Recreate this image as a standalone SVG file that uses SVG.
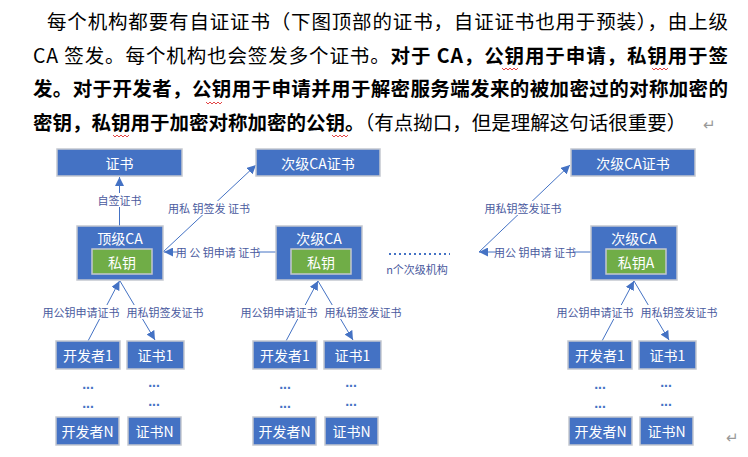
<svg xmlns="http://www.w3.org/2000/svg" width="748" height="457" viewBox="0 0 748 457">
<defs>
<marker id="ah" viewBox="0 0 10 10" refX="10" refY="5" markerWidth="9" markerHeight="9" markerUnits="userSpaceOnUse" orient="auto"><path d="M0,0 L10,5 L0,10 Z" fill="#4472c4"/></marker>
<style>
.p{font-family:"Noto Sans CJK SC","Liberation Sans",sans-serif;font-size:19.5px;fill:#000}
.b{font-weight:bold}
.bx{fill:#4472c4;stroke:#c3c7cf;stroke-width:1.5}
.gk{fill:#70ad47;stroke:#c3c7cf;stroke-width:1.5}
.t{font-family:"Noto Sans CJK SC","Liberation Sans",sans-serif;font-size:14px;fill:#fff;text-anchor:middle;dominant-baseline:central}
.ln{stroke:#4472c4;stroke-width:1;fill:none}
.lb{font-family:"Noto Sans CJK SC","Liberation Sans",sans-serif;font-size:11px;fill:#4a5a9e;text-anchor:middle;dominant-baseline:central}
.bg{fill:#fff}
.dots{font-family:"Liberation Sans",sans-serif;font-size:14px;font-weight:bold;fill:#4472c4;text-anchor:middle}
.sq{stroke:#e03030;stroke-width:0.9;fill:none}
.ret{font-family:"Liberation Sans",sans-serif;font-size:15px;fill:#999}
</style>
</defs>
<rect width="748" height="457" fill="#fff"/>
<g id="paragraph">
<text class="p" x="47" y="29" textLength="681" lengthAdjust="spacing">每个机构都要有自证证书（下图顶部的证书，自证证书也用于预装），由上级</text>
<text class="p" x="33" y="63" textLength="695" lengthAdjust="spacing">CA 签发。每个机构也会签发多个证书。<tspan class="b">对于 CA，公钥用于申请，私钥用于签</tspan></text>
<text class="p b" x="33" y="96" textLength="695" lengthAdjust="spacing">发。对于开发者，公钥用于申请并用于解密服务端发来的被加密过的对称加密的</text>
<text class="p" x="33" y="130"><tspan class="b">密钥，私钥用于加密对称加密的公钥。</tspan>（有点拗口，但是理解这句话很重要）</text>
<text class="ret" x="703" y="130">↵</text>
<text class="ret" x="726" y="443">↵</text>
<path class="sq" d="M502,68 l2,2 l2,-2 l2,2 l2,-2 l2,2 l2,-2 l2,2 l2,-2"/>
<path class="sq" d="M652,68 l2,2 l2,-2 l2,2 l2,-2 l2,2 l2,-2 l2,2 l2,-2"/>
<path class="sq" d="M206,102 l2,2 l2,-2 l2,2 l2,-2 l2,2 l2,-2 l2,2 l2,-2"/>
<path class="sq" d="M113,135 l2,2 l2,-2 l2,2 l2,-2 l2,2 l2,-2 l2,2 l2,-2"/>
<path class="sq" d="M332,135 l2,2 l2,-2 l2,2 l2,-2 l2,2 l2,-2 l2,2 l2,-2"/>
</g>
<g id="connectors">
<line class="ln" x1="119.5" y1="226" x2="119.5" y2="177" marker-end="url(#ah)"/>
<line class="ln" x1="163" y1="252" x2="256" y2="165" marker-end="url(#ah)"/>
<line class="ln" x1="276" y1="252" x2="164" y2="252" marker-end="url(#ah)"/>
<line class="ln" x1="591" y1="252" x2="479" y2="252" marker-end="url(#ah)"/>
<line class="ln" x1="479" y1="252" x2="570" y2="165" marker-end="url(#ah)"/>
<line class="ln" x1="88" y1="341" x2="119.5" y2="281" marker-end="url(#ah)"/>
<line class="ln" x1="120" y1="281" x2="155" y2="340" marker-end="url(#ah)"/>
<line class="ln" x1="286" y1="341" x2="318" y2="281" marker-end="url(#ah)"/>
<line class="ln" x1="318" y1="281" x2="353" y2="340" marker-end="url(#ah)"/>
<line class="ln" x1="602" y1="341" x2="634" y2="281" marker-end="url(#ah)"/>
<line class="ln" x1="634" y1="281" x2="669" y2="340" marker-end="url(#ah)"/>
<rect class="bg" x="97" y="193" width="45" height="14"/>
<text class="lb" x="119.5" y="200">自签证书</text>
<rect class="bg" x="170" y="201" width="78" height="14"/>
<text class="lb" x="209" y="208">用私 钥签发 证书</text>
<rect class="bg" x="178" y="245" width="80" height="14"/>
<text class="lb" x="218" y="252">用 公 钥申请 证书</text>
<rect class="bg" x="496" y="245" width="78" height="14"/>
<text class="lb" x="535" y="252">用公 钥申请 证书</text>
<rect class="bg" x="485" y="201" width="76" height="14"/>
<text class="lb" x="523" y="208">用私钥签发证书</text>
<rect class="bg" x="43" y="305" width="76" height="14"/>
<text class="lb" x="81" y="312">用公钥申请证书</text>
<rect class="bg" x="127" y="305" width="76" height="14"/>
<text class="lb" x="165" y="312">用私钥签发证书</text>
<rect class="bg" x="241" y="305" width="76" height="14"/>
<text class="lb" x="279" y="312">用公钥申请证书</text>
<rect class="bg" x="325" y="305" width="76" height="14"/>
<text class="lb" x="363" y="312">用私钥签发证书</text>
<rect class="bg" x="557" y="305" width="76" height="14"/>
<text class="lb" x="595" y="312">用公钥申请证书</text>
<rect class="bg" x="641" y="305" width="76" height="14"/>
<text class="lb" x="679" y="312">用私钥签发证书</text>
</g>
<g id="n-more">
<line x1="389" y1="254" x2="450" y2="254" stroke="#4472c4" stroke-width="2" stroke-dasharray="2,3"/>
<text class="lb" x="417" y="269">n个次级机构</text>
</g>
<g id="root-cert"><rect class="bx" x="57" y="149" width="125" height="27"/><text class="t" x="119.5" y="162.5">证书</text></g>
<g id="sub-cert-1"><rect class="bx" x="256" y="149" width="124" height="27"/><text class="t" x="318" y="162.5">次级CA证书</text></g>
<g id="sub-cert-2"><rect class="bx" x="571" y="149" width="124" height="27"/><text class="t" x="633" y="162.5">次级CA证书</text></g>
<g id="root-ca"><rect class="bx" x="77" y="226" width="86" height="54"/><text class="t" x="120" y="238">顶级CA</text><rect class="gk" x="92" y="249" width="60" height="25"/><text class="t" x="122" y="261.5">私钥</text></g>
<g id="sub-ca-1"><rect class="bx" x="276" y="226" width="86" height="54"/><text class="t" x="319" y="238">次级CA</text><rect class="gk" x="291" y="249" width="60" height="25"/><text class="t" x="321" y="261.5">私钥</text></g>
<g id="sub-ca-2"><rect class="bx" x="591" y="226" width="86" height="54"/><text class="t" x="634" y="238">次级CA</text><rect class="gk" x="606" y="249" width="60" height="25"/><text class="t" x="636" y="261.5">私钥A</text></g>
<g id="g1-dev1"><rect class="bx" x="56" y="341" width="64" height="28"/><text class="t" x="88" y="355">开发者1</text></g>
<g id="g1-cert1"><rect class="bx" x="127" y="341" width="57" height="28"/><text class="t" x="155.5" y="355">证书1</text></g>
<g id="g1-devN"><rect class="bx" x="56" y="417" width="63" height="28"/><text class="t" x="87.5" y="431">开发者N</text></g>
<g id="g1-certN"><rect class="bx" x="128" y="417" width="53" height="28"/><text class="t" x="154.5" y="431">证书N</text></g>
<g id="g1-dots"><text class="dots" x="88" y="389">...</text><text class="dots" x="88" y="408">...</text><text class="dots" x="154" y="387">...</text><text class="dots" x="154" y="406">...</text></g>
<g id="g2-dev1"><rect class="bx" x="253" y="341" width="64" height="28"/><text class="t" x="285" y="355">开发者1</text></g>
<g id="g2-cert1"><rect class="bx" x="324" y="341" width="57" height="28"/><text class="t" x="352.5" y="355">证书1</text></g>
<g id="g2-devN"><rect class="bx" x="253" y="417" width="63" height="28"/><text class="t" x="284.5" y="431">开发者N</text></g>
<g id="g2-certN"><rect class="bx" x="325" y="417" width="53" height="28"/><text class="t" x="351.5" y="431">证书N</text></g>
<g id="g2-dots"><text class="dots" x="285" y="389">...</text><text class="dots" x="285" y="408">...</text><text class="dots" x="351" y="387">...</text><text class="dots" x="351" y="406">...</text></g>
<g id="g3-dev1"><rect class="bx" x="568" y="341" width="64" height="28"/><text class="t" x="600" y="355">开发者1</text></g>
<g id="g3-cert1"><rect class="bx" x="639" y="341" width="57" height="28"/><text class="t" x="667.5" y="355">证书1</text></g>
<g id="g3-devN"><rect class="bx" x="569" y="417" width="63" height="28"/><text class="t" x="600.5" y="431">开发者N</text></g>
<g id="g3-certN"><rect class="bx" x="640" y="417" width="53" height="28"/><text class="t" x="666.5" y="431">证书N</text></g>
<g id="g3-dots"><text class="dots" x="600" y="389">...</text><text class="dots" x="600" y="408">...</text><text class="dots" x="666" y="387">...</text><text class="dots" x="666" y="406">...</text></g>
</svg>
